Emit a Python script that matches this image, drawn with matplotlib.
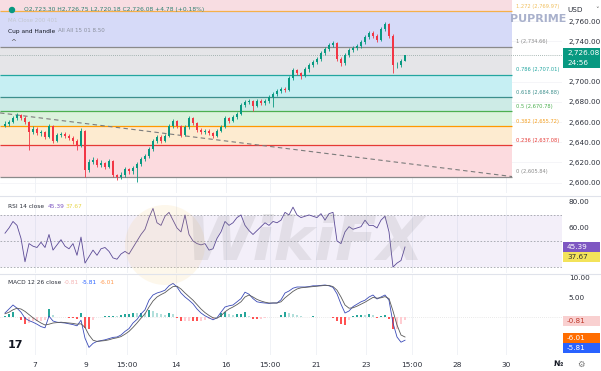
import matplotlib
matplotlib.use("Agg")
import matplotlib.pyplot as plt
from matplotlib.patches import Ellipse, FancyBboxPatch
import numpy as np

# ---------------- data ----------------
closes = [2658, 2660, 2664, 2667, 2664, 2660, 2650, 2653, 2649, 2650,
          2645, 2656, 2641, 2647, 2648, 2646, 2644, 2641, 2636, 2651,
          2612, 2620, 2622, 2617, 2619, 2615, 2621, 2608, 2606, 2608,
          2613, 2611, 2614, 2618, 2623, 2626, 2633, 2641, 2645, 2641,
          2646, 2656, 2661, 2656, 2647, 2655, 2664, 2659, 2652, 2650,
          2651, 2649, 2646, 2651, 2655, 2664, 2661, 2665, 2668, 2677,
          2680, 2681, 2676, 2681, 2679, 2681, 2685, 2688, 2691, 2693,
          2692, 2704, 2711, 2709, 2706, 2712, 2716, 2719, 2722, 2728,
          2732, 2736, 2738, 2722, 2718, 2726, 2731, 2733, 2735, 2739,
          2744, 2748, 2745, 2741, 2752, 2757, 2745, 2716, 2716, 2720,
          2726.08]
first_open = 2656
highs = [2661, 2662, 2666, 2669, 2668, 2666, 2661, 2656, 2655, 2652,
         2651, 2658, 2657, 2649, 2650, 2650, 2648, 2646, 2643, 2654,
         2652, 2623, 2625, 2624, 2622, 2620, 2623, 2622, 2609, 2610,
         2615, 2614, 2616, 2620, 2625, 2628, 2635, 2643, 2647, 2647,
         2648, 2658, 2663, 2662, 2657, 2657, 2666, 2665, 2660, 2654,
         2653, 2653, 2650, 2653, 2657, 2666, 2665, 2667, 2670, 2679,
         2682, 2683, 2682, 2683, 2683, 2683, 2687, 2690, 2693, 2695,
         2695, 2706, 2713, 2712, 2710, 2714, 2718, 2721, 2724, 2730,
         2734, 2738, 2740, 2739, 2724, 2728, 2733, 2735, 2737, 2741,
         2746, 2750, 2750, 2747, 2754, 2759, 2758, 2747, 2719, 2722,
         2726.75]
lows = [2655, 2656, 2659, 2662, 2662, 2658, 2632, 2648, 2647, 2646,
        2643, 2644, 2639, 2640, 2645, 2644, 2642, 2638, 2632, 2635,
        2606, 2610, 2618, 2615, 2615, 2613, 2614, 2606, 2603, 2604,
        2606, 2609, 2609, 2601, 2616, 2621, 2624, 2631, 2639, 2639,
        2640, 2645, 2654, 2654, 2645, 2646, 2653, 2657, 2650, 2648,
        2648, 2647, 2644, 2645, 2650, 2654, 2659, 2660, 2663, 2667,
        2675, 2678, 2671, 2675, 2677, 2677, 2679, 2675, 2686, 2689,
        2690, 2691, 2702, 2707, 2703, 2705, 2710, 2714, 2717, 2720,
        2726, 2730, 2734, 2720, 2715, 2716, 2724, 2729, 2731, 2733,
        2737, 2742, 2743, 2739, 2740, 2750, 2743, 2709, 2713, 2714,
        2720.18]

rsi = [56, 60, 65, 62, 52, 34, 48, 46, 45, 49, 45, 55, 43, 47, 51, 46, 44, 48, 39, 53,
       33, 38, 43, 39, 44, 45, 42, 37, 36, 40, 42, 40, 45, 50, 55, 59, 68, 75, 64, 62,
       69, 72, 66, 60, 57, 70, 55, 50, 48, 47, 48, 43, 44, 52, 57, 65, 62, 64, 68, 70,
       62, 58, 55, 58, 61, 64, 62, 65, 64, 66, 72, 70, 76, 70, 68, 69, 70, 69, 68, 71,
       66, 71, 72, 50, 48, 57, 61, 59, 60, 61, 66, 62, 62, 60, 66, 69, 57, 30, 33, 35,
       45.39]

macd = [1.0, 2.0, 3.0, 2.2, 1.2, -0.3, -0.9, -1.3, -1.8, -2.4, -2.7, 0.2, -1.0, -1.3, -1.4,
        -1.5, -1.7, -1.9, -2.2, -0.8, -5.3, -7.6, -6.6, -6.1, -5.9, -5.7, -5.4, -5.1, -5.0, -4.5,
        -3.6, -2.9, -1.5, -0.6, 0.8, 1.8, 4.2, 5.5, 6.0, 6.3, 6.7, 7.8, 8.4, 7.5, 6.0,
        5.0, 4.2, 3.3, 2.0, 1.0, 0.3, -0.2, -0.7, -0.2, 1.2, 2.5, 2.8, 3.0, 3.8, 4.6,
        6.2, 5.7, 4.6, 3.8, 3.6, 3.5, 3.4, 3.5, 3.5, 4.3, 6.0, 6.5, 7.2, 7.5, 7.5,
        7.5, 7.6, 7.8, 7.8, 7.9, 8.0, 7.8, 7.4, 5.8, 3.2, 1.0, 1.5, 2.6, 3.2, 3.8,
        4.2, 5.0, 5.5, 4.5, 5.0, 5.5, 4.2, -1.5, -5.0, -6.3, -5.81]
signal = [0.8, 1.2, 1.8, 2.2, 2.0, 1.4, 0.6, -0.2, -0.9, -1.5, -2.0, -1.8, -1.5, -1.4, -1.3,
          -1.4, -1.5, -1.6, -1.8, -1.7, -2.6, -4.5, -5.8, -6.1, -6.0, -5.9, -5.7, -5.4, -5.2, -4.9,
          -4.3, -3.6, -2.6, -1.5, -0.3, 0.8, 2.5, 4.0, 5.0, 5.6, 6.1, 6.9, 7.6, 7.7, 7.0,
          6.0, 5.1, 4.2, 3.1, 2.0, 1.1, 0.4, -0.2, -0.3, 0.3, 1.3, 2.0, 2.5, 3.1, 3.8,
          5.0, 5.5, 5.0, 4.4, 4.0, 3.7, 3.5, 3.5, 3.5, 3.8, 4.8, 5.6, 6.4, 7.0, 7.3,
          7.4, 7.5, 7.6, 7.7, 7.8, 7.9, 7.9, 7.6, 6.7, 5.0, 3.0, 2.2, 2.3, 2.7, 3.2,
          3.7, 4.3, 4.9, 4.7, 4.8, 5.1, 4.6, 1.5, -2.0, -4.5, -5.0]

fib_ratios = ["1.272", "1", "0.786", "0.618", "0.5", "0.382", "0.236", "0"]
fib_prices = [2769.97, 2734.66, 2707.01, 2684.88, 2670.78, 2655.72, 2637.08, 2605.84]
fib_line_colors = ["#f5b04a", "#8a8a8a", "#22a6a0", "#3c8f8c", "#4caf50", "#ff9800", "#e53935", "#8a8a8a"]
fib_text_colors = ["#f0c060", "#8a8a8a", "#22a6a0", "#3c8f8c", "#4caf50", "#f5a020", "#e53935", "#8a8a8a"]
fib_zone_colors = ["#d6daf8", "#e5e5e8", "#c6eff3", "#cdebe6", "#dbf2dc", "#fdebd0", "#fcdbdf"]
trend_x = [-1.25, 126.75]
trend_y = [2669, 2606]

price_ticks = [2600, 2620, 2640, 2660, 2680, 2700, 2740, 2760]
date_pos = [7.5, 20.25, 30.5, 42.75, 55.25, 66.25, 77.75, 90.25, 101.75, 113, 125.25]
date_labels = ["7", "9", "15:00", "14", "16", "15:00", "21", "23", "15:00", "28", "30"]

# ---------------- figure ----------------
W, H = 601, 371
fig = plt.figure(figsize=(W / 100, H / 100), dpi=100)
fig.patch.set_facecolor("white")

def fx(px):
    return px / W

def fy(py):
    return 1 - py / H

PR = 562
XL = (-1.25, 139.25)
ax = fig.add_axes([0, fy(193), fx(PR), 193 / H])
ar = fig.add_axes([0, fy(273), fx(PR), 76 / H])
am = fig.add_axes([0, fy(355), fx(PR), 80 / H])

for a in (ax, ar, am):
    a.set_xlim(*XL)
    for s in a.spines.values():
        s.set_visible(False)
    a.set_facecolor("none")
    a.yaxis.tick_right()
    a.tick_params(axis="y", length=0, pad=5, labelsize=5.2, colors="#2a2e39")
    a.tick_params(axis="x", length=0)
    for dp in date_pos:
        a.axvline(dp, color="#eef0f5", lw=0.6, zorder=0)

ax.set_ylim(2589.7, 2780.8)
ar.set_ylim(25.4, 83.8)
am.set_ylim(-9.5, 10.5)

# ---------------- main ----------------
ax.set_yticks(price_ticks)
ax.set_yticklabels([f"{p:,.2f}" for p in price_ticks])
ax.set_xticks([])
for p in price_ticks:
    ax.axhline(p, color="#f1f2f6", lw=0.5, zorder=0)

x0, x1 = trend_x[0], 126.75
ax.fill_between([x0, x1], fib_prices[0], 2790, color="#f8dde2", zorder=1, lw=0)
for k in range(len(fib_zone_colors)):
    ax.fill_between([x0, x1], fib_prices[k + 1], fib_prices[k], color=fib_zone_colors[k], zorder=1, lw=0)
for k, (r, p) in enumerate(zip(fib_ratios, fib_prices)):
    ax.hlines(p, x0, x1, color=fib_line_colors[k], lw=0.9, zorder=2)
    ax.text(127.7, p + 2.2, f"{r} ({p:,.2f})", fontsize=3.7, color=fib_text_colors[k],
            va="bottom", ha="left", zorder=3)

ax.plot(trend_x, trend_y, color="#7c7c7c", lw=0.8, dashes=(4, 3), zorder=3)
ax.axhline(closes[-1], color="#8fa39f", lw=0.6, ls=(0, (1, 1.5)), zorder=3)

opens = [first_open] + closes[:-1]
idx = np.arange(len(closes))
for i in idx:
    o, c = opens[i], closes[i]
    col = "#089981" if c >= o else "#f23645"
    ax.vlines(i, lows[i], highs[i], color=col, lw=0.6, zorder=4)
    ax.bar(i, max(abs(c - o), 0.6), bottom=min(o, c), width=0.6, color=col, zorder=5, lw=0)

# ---------------- RSI ----------------
ar.set_yticks([60, 80])
ar.set_yticklabels(["60.00", "80.00"])
ar.set_xticks([])
ar.fill_between(XL, 30, 70, color="#7e57c2", alpha=0.09, lw=0, zorder=1)
for lv in (70, 50, 30):
    ar.axhline(lv, color="#a0a3ab", lw=0.6, dashes=(2, 2), zorder=2)
ar.plot(idx, rsi, color="#5b4a96", lw=0.6, zorder=4)

# ---------------- MACD ----------------
am.set_yticks([5, 10])
am.set_yticklabels(["5.00", "10.00"])
hist = np.array(macd) - np.array(signal)
hcols = []
for i, h in enumerate(hist):
    prev = hist[i - 1] if i > 0 else 0
    if h >= 0:
        hcols.append("#26a69a" if h >= prev else "#b2dfdb")
    else:
        hcols.append("#ff5252" if h < prev else "#ffcdd2")
am.bar(idx, hist, width=0.35, color=hcols, zorder=3, lw=0)
am.axhline(0, color="#d6d6d6", lw=0.5, ls=(0, (1, 2)), zorder=2)
am.plot(idx, macd, color="#3b4bb8", lw=0.6, zorder=4)
am.plot(idx, signal, color="#5a5a5a", lw=0.6, zorder=4)
am.set_xticks(date_pos)
am.set_xticklabels(date_labels)
am.tick_params(axis="x", labelsize=5.3, colors="#2a2e39", pad=5)

# ---------------- separators ----------------
for py in (195.5, 274):
    fig.add_artist(plt.Line2D([0, 1], [fy(py), fy(py)], color="#e0e3eb", lw=0.8))

# ---------------- headers ----------------
fig.add_artist(Ellipse((fx(12), fy(10)), 5 / W, 5 / H, transform=fig.transFigure, color="#089981"))
fig.text(fx(24), fy(10), "O2,723.30 H2,726.75 L2,720.18 C2,726.08 +4.78 (+0.18%)",
         fontsize=4.3, color="#2f7f70", va="center")
fig.text(fx(8), fy(21), "MA Close 200 401", fontsize=4, color="#c2c6d0", va="center")
fig.text(fx(8), fy(31), "Cup and Handle", fontsize=4.2, color="#131722", va="center")
fig.text(fx(58), fy(31), "All All 15 01 8.50", fontsize=4.0, color="#8a8f9c", va="center")
fig.text(fx(13), fy(42), "^", fontsize=5, color="#555", va="center", ha="center")

fig.text(fx(8), fy(206), "RSI 14 close", fontsize=4.2, color="#2a2e39", va="center")
fig.text(fx(48), fy(206), "45.39", fontsize=4.2, color="#7e57c2", va="center")
fig.text(fx(66), fy(206), "37.67", fontsize=4.2, color="#e8d64a", va="center")
fig.text(fx(8), fy(283), "MACD 12 26 close", fontsize=4.2, color="#2a2e39", va="center")
fig.text(fx(64), fy(283), "-0.81", fontsize=4.2, color="#f4b4b4", va="center")
fig.text(fx(82), fy(283), "-5.81", fontsize=4.2, color="#2962ff", va="center")
fig.text(fx(100), fy(283), "-6.01", fontsize=4.2, color="#ff9a50", va="center")

# ---------------- right axis extras ----------------
fig.text(fx(567), fy(10), "USD", fontsize=5.2, color="#2a2e39", va="center")
fig.text(fx(595), fy(10), "\u02c5", fontsize=5, color="#555", va="center")

def tag(py0, py1, bg, lines, tc="white"):
    fig.add_artist(FancyBboxPatch((fx(563), fy(py1)), fx(600) - fx(563), (py1 - py0) / H,
                                  boxstyle="square,pad=0", transform=fig.transFigure,
                                  color=bg, lw=0))
    n = len(lines)
    for j, t in enumerate(lines):
        yy = py0 + (py1 - py0) * (j + 0.5) / n
        fig.text(fx(567), fy(yy), t, fontsize=5.2, color=tc, va="center")

tag(48, 68, "#089981", ["2,726.08", "24:56"])
tag(242, 252, "#7e57c2", ["45.39"])
tag(252, 262, "#f3e35a", ["37.67"], tc="#333")
tag(316, 326, "#f9d0d0", ["-0.81"], tc="#c0392b")
tag(333, 343, "#ff6d00", ["-6.01"])
tag(343, 353, "#2962ff", ["-5.81"])

fig.text(fx(558), fy(364), "\u2116", fontsize=5.5, color="#131722", va="center", ha="center",
         fontweight="bold")
fig.text(fx(581), fy(364), "\u2699", fontsize=6, color="#777", va="center", ha="center")
fig.text(fx(15), fy(345), "17", fontsize=8, color="#131722", va="center", ha="center",
         fontweight="bold")

# ---------------- branding / watermark ----------------
fig.text(fx(510), fy(19), "PUPRIME", fontsize=8, color="#a9b1cc", va="center",
         fontweight="bold")
fig.add_artist(Ellipse((fx(165), fy(245)), 80 / W, 80 / H, transform=fig.transFigure,
                       color="#f5c060", alpha=0.12, lw=0))
fig.text(fx(305), fy(243), "WikiFX", fontsize=44, color="#8a8a8a", alpha=0.16,
         va="center", ha="center", fontweight="bold", fontstyle="italic")

fig.savefig("out.png", dpi=100)
